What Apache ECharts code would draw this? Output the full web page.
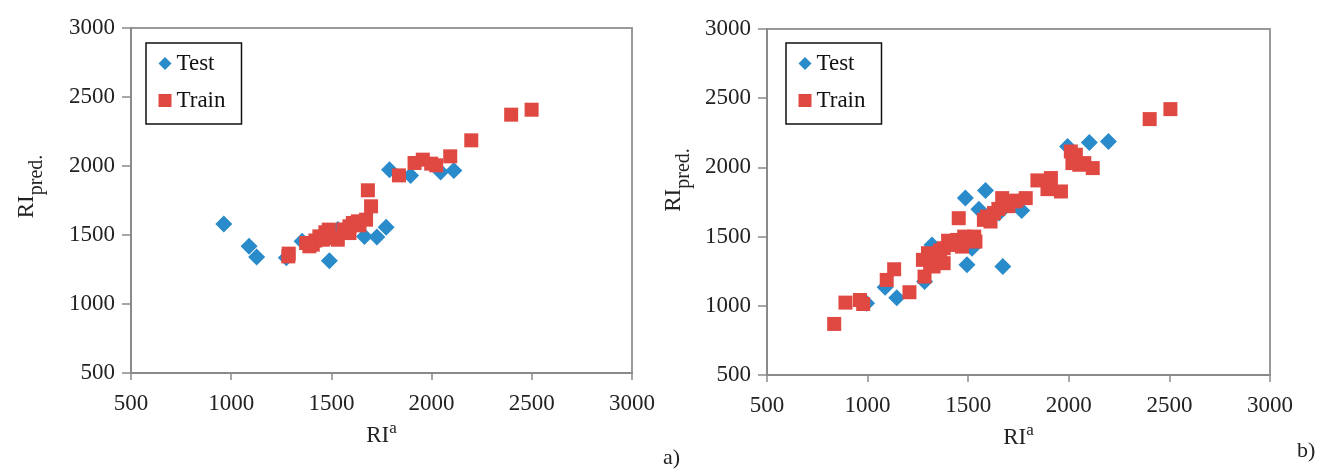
<!DOCTYPE html>
<html>
<head>
<meta charset="utf-8">
<script src="https://cdn.jsdelivr.net/npm/echarts@6/dist/echarts.min.js"></script>
<style>html,body{margin:0;padding:0;background:#fff}#c{width:1317px;height:469px}</style>
</head>
<body>
<div id="c"></div>
<script>
// Panel a) data [RI^a, RI_pred.]
var testA = [[963,1580],[1089,1418],[1127,1341],[1275,1335],[1354,1454],[1490,1314],[1532,1540],[1665,1490],[1727,1485],[1773,1556],[1790,1973],[1895,1932],[2045,1956],[2111,1968]];
var trainA = [[1287,1365],[1285,1345],[1374,1442],[1390,1418],[1407,1430],[1420,1460],[1440,1490],[1457,1466],[1470,1520],[1482,1514],[1487,1539],[1507,1478],[1532,1466],[1560,1540],[1590,1514],[1590,1563],[1607,1587],[1632,1599],[1640,1570],[1673,1611],[1682,1824],[1698,1708],[1837,1932],[1915,2022],[1956,2046],[1998,2017],[2023,2005],[2093,2070],[2198,2186],[2397,2372],[2499,2408]];
// Panel b) data
var testB = [[995,1018],[1087,1134],[1145,1059],[1283,1175],[1320,1440],[1486,1778],[1494,1296],[1519,1416],[1553,1698],[1586,1833],[1653,1670],[1672,1284],[1766,1688],[1994,2151],[2102,2180],[2197,2188]];
var trainB = [[834,869],[890,1023],[962,1042],[978,1013],[1095,1187],[1132,1264],[1208,1098],[1283,1211],[1275,1332],[1300,1380],[1311,1308],[1328,1284],[1345,1356],[1360,1400],[1378,1308],[1378,1416],[1400,1470],[1411,1440],[1444,1476],[1453,1633],[1469,1428],[1480,1500],[1511,1476],[1530,1500],[1536,1464],[1578,1621],[1594,1645],[1611,1609],[1628,1670],[1650,1700],[1669,1778],[1694,1742],[1700,1720],[1727,1754],[1740,1760],[1786,1778],[1844,1906],[1894,1843],[1911,1923],[1961,1826],[2010,2115],[2035,2091],[2018,2031],[2052,2019],[2077,2031],[2119,1995],[2402,2349],[2505,2421]];
var axisMin = 500, axisMax = 3000, axisStep = 500;
var seriesNames = ['Test', 'Train'];
var panelLabels = ['a)', 'b)'];

var FONT = 'Liberation Serif';
var BLUE = '#2a8bcb', RED = '#e04842', AX = '#8a8a8a';
function plain(v) { return String(v); }

function xAx(i, gap) {
  return {
    type: 'value', gridIndex: i, min: axisMin, max: axisMax, interval: axisStep,
    splitLine: {show: false},
    axisLine: {lineStyle: {color: AX, width: 2}},
    axisTick: {length: 7, lineStyle: {color: AX, width: 1.5}},
    axisLabel: {fontFamily: FONT, fontSize: 23, color: '#222', margin: 19, formatter: plain},
    name: '{m|RI}{s|a}', nameLocation: 'middle', nameGap: gap,
    nameTextStyle: {rich: {
      m: {fontFamily: FONT, fontSize: 23, color: '#222', lineHeight: 28, verticalAlign: 'bottom'},
      s: {fontFamily: FONT, fontSize: 17, color: '#222', lineHeight: 28, verticalAlign: 'top'}
    }}
  };
}
function yAx(i, gap, pad) {
  return {
    type: 'value', gridIndex: i, min: axisMin, max: axisMax, interval: axisStep,
    splitLine: {show: false},
    axisLine: {lineStyle: {color: AX, width: 2}},
    axisTick: {length: 9, lineStyle: {color: AX, width: 1.5}},
    axisLabel: {fontFamily: FONT, fontSize: 23, color: '#222', margin: 16, formatter: plain},
    name: '{m|RI}{s|pred.}', nameLocation: 'middle', nameGap: gap, nameRotate: 90,
    nameTextStyle: {padding: [0, 0, 0, pad], rich: {
      m: {fontFamily: FONT, fontSize: 23, color: '#222', lineHeight: 32, verticalAlign: 'top'},
      s: {fontFamily: FONT, fontSize: 20, color: '#222', lineHeight: 32, verticalAlign: 'bottom'}
    }}
  };
}
function legend(left) {
  return {
    left: left, top: 43, orient: 'vertical', data: seriesNames,
    itemWidth: 13, itemHeight: 13, itemGap: 14,
    padding: [9, 16, 12, 12.5],
    borderColor: '#111', borderWidth: 1.5, backgroundColor: '#fff',
    textStyle: {fontFamily: FONT, fontSize: 23, color: '#111'},
    selectedMode: false
  };
}
function sc(name, data, i) {
  var isTest = name === seriesNames[0];
  return {
    type: 'scatter', name: name, data: data, xAxisIndex: i, yAxisIndex: i,
    symbol: isTest ? 'diamond' : 'rect', symbolSize: isTest ? 17 : 14,
    itemStyle: {color: isTest ? BLUE : RED, opacity: 1},
    emphasis: {disabled: true}
  };
}

var chart = echarts.init(document.getElementById('c'), null, {renderer: 'canvas'});
chart.setOption({
  animation: false,
  backgroundColor: '#fff',
  grid: [
    {left: 131, top: 28, width: 501, height: 345, show: true, borderColor: '#999', borderWidth: 2},
    {left: 767, top: 29, width: 503, height: 346, show: true, borderColor: '#999', borderWidth: 2}
  ],
  xAxis: [xAx(0, 39), xAx(1, 38)],
  yAxis: [yAx(0, 84, 28), yAx(1, 73, 44)],
  legend: [legend(146), legend(786)],
  series: [sc('Test', testA, 0), sc('Train', trainA, 0), sc('Test', testB, 1), sc('Train', trainB, 1)],
  graphic: [
    {type: 'text', left: 663, top: 447, style: {text: panelLabels[0], fontFamily: FONT, fontSize: 22, fill: '#222'}},
    {type: 'text', left: 1297, top: 440, style: {text: panelLabels[1], fontFamily: FONT, fontSize: 22, fill: '#222'}}
  ]
});
</script>
</body>
</html>
